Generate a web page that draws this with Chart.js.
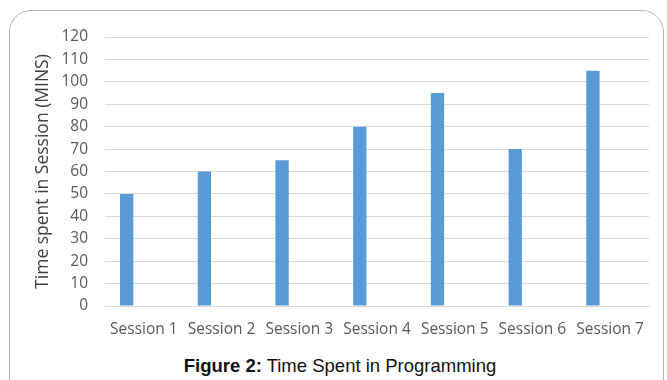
<!DOCTYPE html>
<html>
<head>
<meta charset="utf-8">
<script src="https://cdn.jsdelivr.net/npm/chart.js@4/dist/chart.umd.min.js"></script>
<style>
  html, body { margin: 0; padding: 0; background: #fff; width: 667px; height: 380px; overflow: hidden; }
  #frame {
    position: absolute; left: 9px; top: 10px; width: 655px; height: 400px;
    border: 1px solid #b4b4b4; border-radius: 22px; box-sizing: border-box;
  }
  #wrap { position: absolute; left: 0; top: 0; width: 667px; height: 345px; }
  #caption {
    position: absolute; left: 0; width: 680px; top: 355px; text-align: center;
    font-family: "Liberation Sans", Arial, sans-serif; font-size: 18.5px; color: #111;
  }
</style>
</head>
<body>
<div id="frame"></div>
<div id="wrap"><canvas id="chart"></canvas></div>
<div id="caption"><b>Figure 2:</b> Time Spent in Programming</div>
<script>
// Sessions and minutes spent in each
const sessions = ["Session 1", "Session 2", "Session 3", "Session 4", "Session 5", "Session 6", "Session 7"];
const minutes = [50, 60, 65, 80, 95, 70, 105];
// second series of the sheet has no values, it only reserves its slot
const secondSeries = [null, null, null, null, null, null, null];
const yTicks = [0, 10, 20, 30, 40, 50, 60, 70, 80, 90, 100, 110, 120];

const tickFont = { family: "'Open Sans', sans-serif", size: 15.5 };

new Chart(document.getElementById("chart"), {
  type: "bar",
  data: {
    labels: sessions,
    datasets: [
      { label: "Time", data: minutes, backgroundColor: "#5B9BD5", borderWidth: 0,
        barPercentage: 0.387, categoryPercentage: 0.886 },
      { label: "Series 2", data: secondSeries, backgroundColor: "#ED7D31", borderWidth: 0,
        barPercentage: 0.387, categoryPercentage: 0.886 }
    ]
  },
  options: {
    responsive: true,
    maintainAspectRatio: false,
    animation: false,
    layout: { padding: { left: 33, right: 18, top: 37, bottom: 0 } },
    plugins: { legend: { display: false }, tooltip: { enabled: false } },
    scales: {
      x: {
        grid: { display: false, drawTicks: false },
        border: { display: true, color: "#d9d9d9", width: 1 },
        ticks: { color: "#595959", font: tickFont, padding: 14, maxRotation: 0, autoSkip: false },
        afterFit: (s) => { s.height = 39; }
      },
      y: {
        min: 0, max: 120,
        afterBuildTicks: (s) => { s.ticks = yTicks.map(v => ({ value: v })); },
        grid: { color: "#d9d9d9", drawTicks: false },
        border: { display: false },
        ticks: { color: "#595959", font: tickFont, padding: 17 },
        title: { display: true, text: "Time spent in Session (MINS)", color: "#404040",
                 font: { family: "'Open Sans', sans-serif", size: 17.5 }, padding: { top: 0, bottom: 0 } },
        afterFit: (s) => { s.width = 72; }
      }
    }
  }
});
</script>
</body>
</html>
